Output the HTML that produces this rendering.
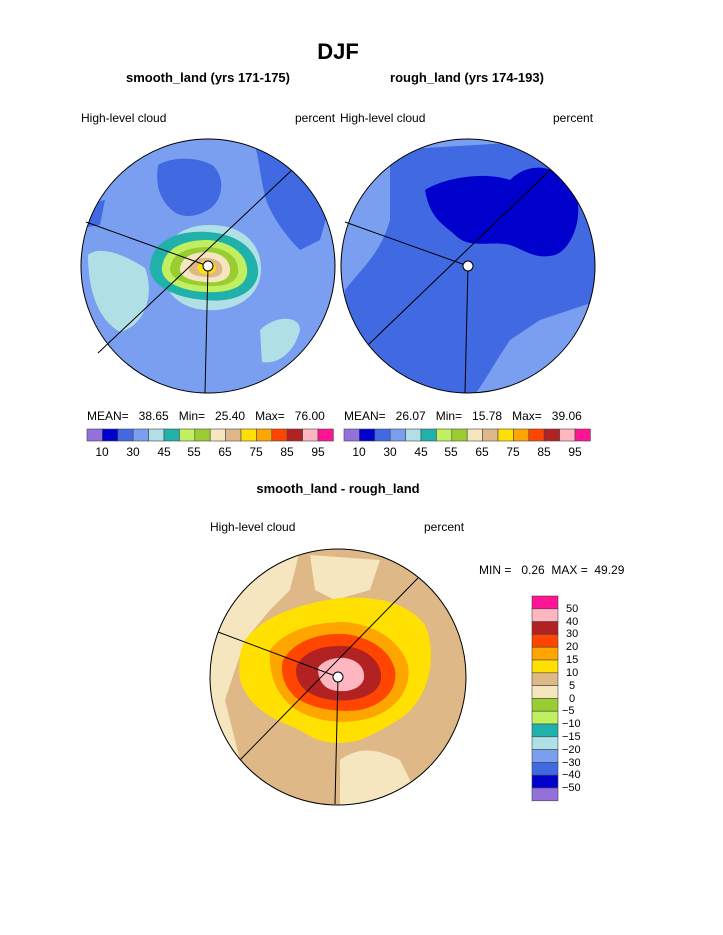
<!DOCTYPE html>
<html><head><meta charset="utf-8"><style>
body{margin:0;background:#fff;width:723px;height:935px;overflow:hidden}
svg{display:block}
text{font-family:"Liberation Sans",sans-serif;fill:#000;white-space:pre}
</style></head><body>
<svg width="723" height="935" viewBox="0 0 723 935" xmlns="http://www.w3.org/2000/svg" xml:space="preserve">
<defs>
<clipPath id="cl"><circle cx="208" cy="266" r="127"/></clipPath>
<clipPath id="cr"><circle cx="468" cy="266" r="127"/></clipPath>
<clipPath id="cb"><circle cx="338" cy="677" r="128"/></clipPath>
</defs>
<text x="338" y="59" font-size="22" font-weight="bold" text-anchor="middle">DJF</text>
<text x="208" y="82" font-size="13" font-weight="bold" text-anchor="middle">smooth_land (yrs 171-175)</text>
<text x="467" y="82" font-size="13" font-weight="bold" text-anchor="middle">rough_land (yrs 174-193)</text>
<text x="81" y="122" font-size="12">High-level cloud</text>
<text x="295" y="122" font-size="12">percent</text>
<text x="340" y="122" font-size="12">High-level cloud</text>
<text x="553" y="122" font-size="12">percent</text>

<!-- left -->
<g clip-path="url(#cl)">
<rect x="70" y="130" width="280" height="280" fill="#7B9FF0"/>
<path d="M158 165 C175 155 200 158 212 165 C225 175 225 200 208 210 C195 218 180 218 172 210 C160 200 155 185 158 165Z" fill="#4169E1"/>
<path d="M255 145 L300 160 L330 205 L320 240 L300 250 C285 235 275 220 268 205 C262 190 260 165 255 145Z" fill="#4169E1"/>
<path d="M82 205 L105 200 L100 225 L82 228Z" fill="#4169E1"/>
<path d="M88 255 C100 245 125 255 145 268 C155 295 145 325 120 332 C98 320 88 290 88 255Z" fill="#B0E0E6"/>
<path d="M260 330 C275 315 300 315 300 330 C295 350 280 365 262 362Z" fill="#B0E0E6"/>
<path d="M162 262 C167 230 195 222 222 226 C250 230 265 252 260 278 C255 300 232 312 205 310 C178 308 160 290 162 262Z" fill="#B0E0E6"/>
<path d="M150 266 C152 240 178 230 208 232 C240 234 260 252 258 275 C254 295 230 303 205 300 C175 298 148 285 150 266Z" fill="#20B2AA"/>
<path d="M162 267 C165 247 185 240 208 240 C233 242 249 256 247 274 C244 289 226 293 205 292 C182 291 160 282 162 267Z" fill="#C0F060"/>
<path d="M170 268 C172 252 190 247 208 247 C228 248 240 259 238 273 C236 284 222 287 205 286 C186 285 169 279 170 268Z" fill="#9ACD32"/>
<path d="M180 268 C182 256 194 252 208 252 C223 253 231 261 230 272 C228 281 218 283 205 282 C191 281 179 277 180 268Z" fill="#F5E6C0"/>
<path d="M189 268 C191 260 199 257 208 258 C219 259 224 265 222 272 C220 277 213 278 205 277 C196 276 188 274 189 268Z" fill="#DEB887"/>
<path d="M197 268 C199 262 204 260 210 261 C215 263 217 267 215 271 C211 275 204 275 200 273Z" fill="#FFE000"/>
</g>
<circle cx="208" cy="266" r="127" fill="none" stroke="#000"/>
<line x1="292" y1="170" x2="98" y2="353" stroke="#000"/>
<line x1="86" y1="222" x2="208" y2="266" stroke="#000"/>
<line x1="208" y1="266" x2="205" y2="393" stroke="#000"/>
<circle cx="208" cy="266" r="5" fill="#fff" stroke="#000"/>

<!-- right -->
<g clip-path="url(#cr)">
<rect x="330" y="130" width="280" height="280" fill="#7B9FF0"/>
<path d="M390 150 L560 140 L610 200 L600 300 L540 320 L510 340 C490 370 480 390 470 400 L380 400 L345 360 L345 290 C360 270 380 255 390 220 Z" fill="#4169E1"/>
<path d="M425 190 C440 180 480 170 510 180 C530 160 560 165 575 190 C585 220 570 250 555 255 C535 260 525 250 510 245 C490 240 470 250 455 235 C445 225 430 220 425 190Z" fill="#0000CD"/>
</g>
<circle cx="468" cy="266" r="127" fill="none" stroke="#000"/>
<line x1="550" y1="170" x2="368" y2="345" stroke="#000"/>
<line x1="345" y1="222" x2="468" y2="266" stroke="#000"/>
<line x1="468" y1="266" x2="465" y2="393" stroke="#000"/>
<circle cx="468" cy="266" r="5" fill="#fff" stroke="#000"/>

<!-- colorbars -->
<g font-size="12">
<text x="87" y="420">MEAN=   38.65   Min=   25.40   Max=   76.00</text>
<text x="344" y="420">MEAN=   26.07   Min=   15.78   Max=   39.06</text>
</g>
<g id="cb1" stroke="#444" stroke-width="0.6">
<rect x="87" y="429" width="15.4" height="12" fill="#9370DB"/><rect x="102.4" y="429" width="15.4" height="12" fill="#0000CD"/><rect x="117.8" y="429" width="15.4" height="12" fill="#4169E1"/><rect x="133.2" y="429" width="15.4" height="12" fill="#7B9FF0"/><rect x="148.6" y="429" width="15.4" height="12" fill="#B0E0E6"/><rect x="164" y="429" width="15.4" height="12" fill="#20B2AA"/><rect x="179.4" y="429" width="15.4" height="12" fill="#C0F060"/><rect x="194.8" y="429" width="15.4" height="12" fill="#9ACD32"/><rect x="210.2" y="429" width="15.4" height="12" fill="#F5E6C0"/><rect x="225.6" y="429" width="15.4" height="12" fill="#DEB887"/><rect x="241" y="429" width="15.4" height="12" fill="#FFE000"/><rect x="256.4" y="429" width="15.4" height="12" fill="#FFA500"/><rect x="271.8" y="429" width="15.4" height="12" fill="#FF4500"/><rect x="287.2" y="429" width="15.4" height="12" fill="#B22222"/><rect x="302.6" y="429" width="15.4" height="12" fill="#FFB6C1"/><rect x="318" y="429" width="15.4" height="12" fill="#FF1493"/>
</g>
<use href="#cb1" x="257"/>
<g font-size="12" text-anchor="middle">
<text x="102" y="456">10</text><text x="133" y="456">30</text><text x="164" y="456">45</text><text x="194" y="456">55</text><text x="225" y="456">65</text><text x="256" y="456">75</text><text x="287" y="456">85</text><text x="318" y="456">95</text>
<text x="359" y="456">10</text><text x="390" y="456">30</text><text x="421" y="456">45</text><text x="451" y="456">55</text><text x="482" y="456">65</text><text x="513" y="456">75</text><text x="544" y="456">85</text><text x="575" y="456">95</text>
</g>

<text x="338" y="493" font-size="13" font-weight="bold" text-anchor="middle">smooth_land - rough_land</text>
<text x="210" y="531" font-size="12">High-level cloud</text>
<text x="424" y="531" font-size="12">percent</text>
<text x="479" y="574" font-size="12">MIN =   0.26  MAX =  49.29</text>

<!-- bottom -->
<g clip-path="url(#cb)">
<rect x="200" y="540" width="280" height="280" fill="#DEB887"/>
<path d="M210 580 L300 550 L290 590 L270 610 L245 640 L225 700 L240 760 L200 760Z" fill="#F5E6C0"/>
<path d="M310 555 L380 560 L370 590 L335 600 L315 590Z" fill="#F5E6C0"/>
<path d="M340 760 C360 745 380 750 400 760 L420 800 L340 810Z" fill="#F5E6C0"/>
<path d="M245 640 C260 620 290 605 340 598 C380 595 410 605 425 625 C440 660 425 700 405 715 C385 730 370 735 360 740 C340 745 320 745 300 730 C275 720 250 710 240 680 C238 660 240 650 245 640Z" fill="#FFE000"/>
<path d="M270 650 C285 630 315 622 345 622 C375 625 400 640 408 665 C412 690 395 710 370 718 C345 725 320 722 300 712 C280 700 268 680 270 650Z" fill="#FFA500"/>
<path d="M283 660 C295 640 320 633 345 634 C370 637 390 650 395 670 C398 690 383 705 360 710 C335 713 310 708 295 697 C283 685 280 672 283 660Z" fill="#FF4500"/>
<path d="M297 665 C305 650 325 645 345 646 C365 648 380 660 381 675 C382 690 368 698 350 700 C330 702 312 697 303 688 C296 680 295 672 297 665Z" fill="#B22222"/>
<path d="M318 668 C323 660 335 657 345 658 C358 660 365 668 364 678 C362 688 350 692 338 691 C326 690 318 683 318 668Z" fill="#FFB6C1"/>
</g>
<circle cx="338" cy="677" r="128" fill="none" stroke="#000"/>
<line x1="418" y1="578" x2="240" y2="760" stroke="#000"/>
<line x1="218" y1="632" x2="338" y2="677" stroke="#000"/>
<line x1="338" y1="677" x2="335" y2="804" stroke="#000"/>
<circle cx="338" cy="677" r="5" fill="#fff" stroke="#000"/>

<!-- vertical legend -->
<g stroke="#444" stroke-width="0.6">
<rect x="532" y="596" width="26" height="12.8" fill="#FF1493"/><rect x="532" y="608.8" width="26" height="12.8" fill="#FFB6C1"/><rect x="532" y="621.6" width="26" height="12.8" fill="#B22222"/><rect x="532" y="634.4" width="26" height="12.8" fill="#FF4500"/><rect x="532" y="647.2" width="26" height="12.8" fill="#FFA500"/><rect x="532" y="660" width="26" height="12.8" fill="#FFE000"/><rect x="532" y="672.8" width="26" height="12.8" fill="#DEB887"/><rect x="532" y="685.6" width="26" height="12.8" fill="#F5E6C0"/><rect x="532" y="698.4" width="26" height="12.8" fill="#9ACD32"/><rect x="532" y="711.2" width="26" height="12.8" fill="#C0F060"/><rect x="532" y="724" width="26" height="12.8" fill="#20B2AA"/><rect x="532" y="736.8" width="26" height="12.8" fill="#B0E0E6"/><rect x="532" y="749.6" width="26" height="12.8" fill="#7B9FF0"/><rect x="532" y="762.4" width="26" height="12.8" fill="#4169E1"/><rect x="532" y="775.2" width="26" height="12.8" fill="#0000CD"/><rect x="532" y="788" width="26" height="12.8" fill="#9370DB"/>
</g>
<g font-size="11">
<text x="566" y="612">50</text><text x="566" y="625">40</text><text x="566" y="637">30</text><text x="566" y="650">20</text><text x="566" y="663">15</text><text x="566" y="676">10</text><text x="569" y="689">5</text><text x="569" y="702">0</text><text x="562" y="714">−5</text><text x="562" y="727">−10</text><text x="562" y="740">−15</text><text x="562" y="753">−20</text><text x="562" y="766">−30</text><text x="562" y="778">−40</text><text x="562" y="791">−50</text>
</g>
</svg>
</body></html>
